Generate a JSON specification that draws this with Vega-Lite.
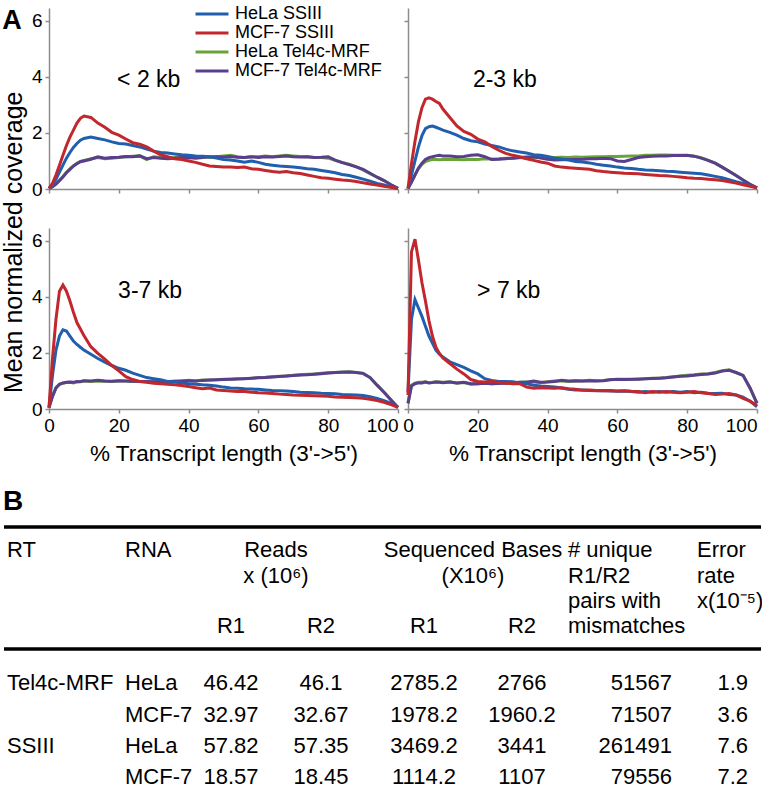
{
"$schema": "https://vega.github.io/schema/vega-lite/v6.json",
"padding": {"left": 2, "top": 4, "right": 0, "bottom": 0},
"title": {"text": "A", "anchor": "start", "frame": "bounds", "fontSize": 27, "fontWeight": "bold", "offset": -31},
"datasets": {
"labels": [{"p": "lt2", "label": "< 2 kb"}, {"p": "2to3", "label": "2-3 kb"}, {"p": "3to7", "label": "3-7 kb"}, {"p": "gt7", "label": "> 7 kb"}],
"tbl": [
{"k": "h", "r": 1, "c": 1, "t": "RT"},
{"k": "h", "r": 1, "c": 2, "t": "RNA"},
{"k": "h", "r": 1, "c": 3.5, "t": "Reads"},
{"k": "h", "r": 2, "c": 3.5, "t": "x (10⁶)"},
{"k": "h", "r": 1, "c": 5.5, "t": "Sequenced Bases"},
{"k": "h", "r": 2, "c": 5.5, "t": "(X10⁶)"},
{"k": "h", "r": 1, "c": 7, "t": "# unique"},
{"k": "h", "r": 2, "c": 7, "t": "R1/R2"},
{"k": "h", "r": 3, "c": 7, "t": "pairs with"},
{"k": "h", "r": 4, "c": 7, "t": "mismatches"},
{"k": "h", "r": 1, "c": 8, "t": "Error"},
{"k": "h", "r": 2, "c": 8, "t": "rate"},
{"k": "h", "r": 3, "c": 8, "t": "x(10⁻⁵)"},
{"k": "h", "r": 4, "c": 3, "t": "R1"},
{"k": "h", "r": 4, "c": 4, "t": "R2"},
{"k": "h", "r": 4, "c": 5, "t": "R1"},
{"k": "h", "r": 4, "c": 6, "t": "R2"},
{"k": "d", "r": 5, "c": 1, "t": "Tel4c-MRF"},
{"k": "d", "r": 5, "c": 2, "t": "HeLa"},
{"k": "d", "r": 5, "c": 3, "t": "46.42"},
{"k": "d", "r": 5, "c": 4, "t": "46.1"},
{"k": "d", "r": 5, "c": 5, "t": "2785.2"},
{"k": "d", "r": 5, "c": 6, "t": "2766"},
{"k": "d", "r": 5, "c": 7, "t": "51567"},
{"k": "d", "r": 5, "c": 8, "t": "1.9"},
{"k": "d", "r": 6, "c": 2, "t": "MCF-7"},
{"k": "d", "r": 6, "c": 3, "t": "32.97"},
{"k": "d", "r": 6, "c": 4, "t": "32.67"},
{"k": "d", "r": 6, "c": 5, "t": "1978.2"},
{"k": "d", "r": 6, "c": 6, "t": "1960.2"},
{"k": "d", "r": 6, "c": 7, "t": "71507"},
{"k": "d", "r": 6, "c": 8, "t": "3.6"},
{"k": "d", "r": 7, "c": 1, "t": "SSIII"},
{"k": "d", "r": 7, "c": 2, "t": "HeLa"},
{"k": "d", "r": 7, "c": 3, "t": "57.82"},
{"k": "d", "r": 7, "c": 4, "t": "57.35"},
{"k": "d", "r": 7, "c": 5, "t": "3469.2"},
{"k": "d", "r": 7, "c": 6, "t": "3441"},
{"k": "d", "r": 7, "c": 7, "t": "261491"},
{"k": "d", "r": 7, "c": 8, "t": "7.6"},
{"k": "d", "r": 8, "c": 2, "t": "MCF-7"},
{"k": "d", "r": 8, "c": 3, "t": "18.57"},
{"k": "d", "r": 8, "c": 4, "t": "18.45"},
{"k": "d", "r": 8, "c": 5, "t": "1114.2"},
{"k": "d", "r": 8, "c": 6, "t": "1107"},
{"k": "d", "r": 8, "c": 7, "t": "79556"},
{"k": "d", "r": 8, "c": 8, "t": "7.2"}
],
"cov": [
{"p":"lt2","x":0,"hs":0.02,"ms":0.02,"ht":0.02,"mt":0.02},
{"p":"lt2","x":1,"hs":0.15,"ms":0.2,"ht":0.08,"mt":0.08},
{"p":"lt2","x":2,"hs":0.35,"ms":0.5,"ht":0.18,"mt":0.17},
{"p":"lt2","x":3,"hs":0.6,"ms":0.85,"ht":0.3,"mt":0.3},
{"p":"lt2","x":4,"hs":0.85,"ms":1.2,"ht":0.45,"mt":0.43},
{"p":"lt2","x":5,"hs":1.1,"ms":1.55,"ht":0.6,"mt":0.58},
{"p":"lt2","x":6,"hs":1.3,"ms":1.85,"ht":0.72,"mt":0.7},
{"p":"lt2","x":7,"hs":1.48,"ms":2.1,"ht":0.82,"mt":0.82},
{"p":"lt2","x":8,"hs":1.62,"ms":2.35,"ht":0.92,"mt":0.9},
{"p":"lt2","x":9,"hs":1.74,"ms":2.52,"ht":0.98,"mt":0.97},
{"p":"lt2","x":10,"hs":1.8,"ms":2.6,"ht":1.02,"mt":1.0},
{"p":"lt2","x":12,"hs":1.85,"ms":2.55,"ht":1.08,"mt":1.06},
{"p":"lt2","x":14,"hs":1.8,"ms":2.35,"ht":1.12,"mt":1.15},
{"p":"lt2","x":16,"hs":1.75,"ms":2.2,"ht":1.08,"mt":1.1},
{"p":"lt2","x":18,"hs":1.68,"ms":2.02,"ht":1.1,"mt":1.12},
{"p":"lt2","x":20,"hs":1.62,"ms":1.92,"ht":1.12,"mt":1.13},
{"p":"lt2","x":22,"hs":1.6,"ms":1.78,"ht":1.15,"mt":1.16},
{"p":"lt2","x":24,"hs":1.55,"ms":1.65,"ht":1.17,"mt":1.15},
{"p":"lt2","x":26,"hs":1.5,"ms":1.6,"ht":1.18,"mt":1.18},
{"p":"lt2","x":28,"hs":1.42,"ms":1.5,"ht":1.05,"mt":1.08},
{"p":"lt2","x":30,"hs":1.35,"ms":1.35,"ht":1.15,"mt":1.12},
{"p":"lt2","x":32,"hs":1.3,"ms":1.22,"ht":1.12,"mt":1.1},
{"p":"lt2","x":34,"hs":1.28,"ms":1.15,"ht":1.1,"mt":1.08},
{"p":"lt2","x":36,"hs":1.25,"ms":1.08,"ht":1.12,"mt":1.1},
{"p":"lt2","x":38,"hs":1.22,"ms":1.05,"ht":1.15,"mt":1.12},
{"p":"lt2","x":40,"hs":1.2,"ms":1.0,"ht":1.1,"mt":1.13},
{"p":"lt2","x":42,"hs":1.18,"ms":0.95,"ht":1.12,"mt":1.1},
{"p":"lt2","x":44,"hs":1.17,"ms":0.88,"ht":1.15,"mt":1.12},
{"p":"lt2","x":46,"hs":1.15,"ms":0.82,"ht":1.12,"mt":1.15},
{"p":"lt2","x":48,"hs":1.1,"ms":0.8,"ht":1.15,"mt":1.15},
{"p":"lt2","x":50,"hs":1.05,"ms":0.78,"ht":1.18,"mt":1.14},
{"p":"lt2","x":52,"hs":1.03,"ms":0.78,"ht":1.2,"mt":1.16},
{"p":"lt2","x":54,"hs":1.0,"ms":0.77,"ht":1.15,"mt":1.13},
{"p":"lt2","x":56,"hs":0.95,"ms":0.78,"ht":1.12,"mt":1.12},
{"p":"lt2","x":58,"hs":1.0,"ms":0.72,"ht":1.15,"mt":1.15},
{"p":"lt2","x":60,"hs":0.95,"ms":0.7,"ht":1.15,"mt":1.12},
{"p":"lt2","x":62,"hs":0.88,"ms":0.66,"ht":1.18,"mt":1.15},
{"p":"lt2","x":64,"hs":0.85,"ms":0.62,"ht":1.15,"mt":1.14},
{"p":"lt2","x":66,"hs":0.82,"ms":0.6,"ht":1.18,"mt":1.16},
{"p":"lt2","x":68,"hs":0.8,"ms":0.62,"ht":1.2,"mt":1.18},
{"p":"lt2","x":70,"hs":0.78,"ms":0.58,"ht":1.18,"mt":1.15},
{"p":"lt2","x":72,"hs":0.76,"ms":0.55,"ht":1.16,"mt":1.14},
{"p":"lt2","x":74,"hs":0.72,"ms":0.5,"ht":1.15,"mt":1.15},
{"p":"lt2","x":76,"hs":0.7,"ms":0.45,"ht":1.12,"mt":1.12},
{"p":"lt2","x":78,"hs":0.66,"ms":0.4,"ht":1.12,"mt":1.13},
{"p":"lt2","x":80,"hs":0.62,"ms":0.38,"ht":1.1,"mt":1.15},
{"p":"lt2","x":82,"hs":0.58,"ms":0.35,"ht":1.02,"mt":1.03},
{"p":"lt2","x":84,"hs":0.52,"ms":0.32,"ht":0.95,"mt":0.94},
{"p":"lt2","x":86,"hs":0.48,"ms":0.3,"ht":0.88,"mt":0.87},
{"p":"lt2","x":88,"hs":0.42,"ms":0.27,"ht":0.8,"mt":0.79},
{"p":"lt2","x":90,"hs":0.35,"ms":0.22,"ht":0.68,"mt":0.7},
{"p":"lt2","x":92,"hs":0.28,"ms":0.18,"ht":0.55,"mt":0.56},
{"p":"lt2","x":94,"hs":0.2,"ms":0.14,"ht":0.42,"mt":0.42},
{"p":"lt2","x":96,"hs":0.14,"ms":0.1,"ht":0.3,"mt":0.3},
{"p":"lt2","x":98,"hs":0.07,"ms":0.06,"ht":0.15,"mt":0.15},
{"p":"lt2","x":100,"hs":0.02,"ms":0.02,"ht":0.02,"mt":0.02},
{"p":"2to3","x":0,"hs":0.02,"ms":0.02,"ht":0.02,"mt":0.02},
{"p":"2to3","x":1,"hs":0.5,"ms":0.9,"ht":0.25,"mt":0.25},
{"p":"2to3","x":2,"hs":1.0,"ms":1.7,"ht":0.5,"mt":0.5},
{"p":"2to3","x":3,"hs":1.5,"ms":2.4,"ht":0.72,"mt":0.75},
{"p":"2to3","x":4,"hs":1.9,"ms":2.9,"ht":0.88,"mt":0.92},
{"p":"2to3","x":5,"hs":2.15,"ms":3.2,"ht":0.98,"mt":1.05},
{"p":"2to3","x":6,"hs":2.22,"ms":3.25,"ht":1.02,"mt":1.12},
{"p":"2to3","x":7,"hs":2.24,"ms":3.2,"ht":1.05,"mt":1.15},
{"p":"2to3","x":8,"hs":2.2,"ms":3.12,"ht":1.05,"mt":1.18},
{"p":"2to3","x":9,"hs":2.15,"ms":3.05,"ht":1.04,"mt":1.2},
{"p":"2to3","x":10,"hs":2.1,"ms":2.85,"ht":1.05,"mt":1.18},
{"p":"2to3","x":12,"hs":2.02,"ms":2.55,"ht":1.06,"mt":1.18},
{"p":"2to3","x":14,"hs":1.92,"ms":2.25,"ht":1.05,"mt":1.15},
{"p":"2to3","x":16,"hs":1.8,"ms":2.05,"ht":1.04,"mt":1.16},
{"p":"2to3","x":18,"hs":1.72,"ms":1.95,"ht":1.06,"mt":1.2},
{"p":"2to3","x":20,"hs":1.68,"ms":1.78,"ht":1.05,"mt":1.22},
{"p":"2to3","x":22,"hs":1.6,"ms":1.68,"ht":1.08,"mt":1.15},
{"p":"2to3","x":24,"hs":1.55,"ms":1.52,"ht":1.07,"mt":1.05},
{"p":"2to3","x":26,"hs":1.5,"ms":1.38,"ht":1.08,"mt":1.06},
{"p":"2to3","x":28,"hs":1.42,"ms":1.27,"ht":1.1,"mt":1.08},
{"p":"2to3","x":30,"hs":1.36,"ms":1.2,"ht":1.1,"mt":1.1},
{"p":"2to3","x":32,"hs":1.32,"ms":1.15,"ht":1.12,"mt":1.12},
{"p":"2to3","x":34,"hs":1.28,"ms":1.08,"ht":1.1,"mt":1.14},
{"p":"2to3","x":36,"hs":1.22,"ms":1.02,"ht":1.13,"mt":1.15},
{"p":"2to3","x":38,"hs":1.2,"ms":0.96,"ht":1.12,"mt":1.1},
{"p":"2to3","x":40,"hs":1.16,"ms":0.92,"ht":1.13,"mt":1.06},
{"p":"2to3","x":42,"hs":1.1,"ms":0.82,"ht":1.12,"mt":1.03},
{"p":"2to3","x":44,"hs":1.07,"ms":0.78,"ht":1.13,"mt":1.04},
{"p":"2to3","x":46,"hs":1.03,"ms":0.76,"ht":1.12,"mt":1.05},
{"p":"2to3","x":48,"hs":0.98,"ms":0.74,"ht":1.14,"mt":1.05},
{"p":"2to3","x":50,"hs":0.96,"ms":0.72,"ht":1.13,"mt":1.06},
{"p":"2to3","x":52,"hs":0.93,"ms":0.7,"ht":1.14,"mt":1.08},
{"p":"2to3","x":54,"hs":0.88,"ms":0.65,"ht":1.15,"mt":1.08},
{"p":"2to3","x":56,"hs":0.85,"ms":0.62,"ht":1.15,"mt":1.1},
{"p":"2to3","x":58,"hs":0.82,"ms":0.6,"ht":1.16,"mt":1.08},
{"p":"2to3","x":60,"hs":0.78,"ms":0.58,"ht":1.16,"mt":1.0},
{"p":"2to3","x":62,"hs":0.75,"ms":0.56,"ht":1.17,"mt":0.98},
{"p":"2to3","x":64,"hs":0.73,"ms":0.55,"ht":1.18,"mt":1.05},
{"p":"2to3","x":66,"hs":0.7,"ms":0.54,"ht":1.18,"mt":1.12},
{"p":"2to3","x":68,"hs":0.68,"ms":0.52,"ht":1.2,"mt":1.15},
{"p":"2to3","x":70,"hs":0.67,"ms":0.5,"ht":1.2,"mt":1.17},
{"p":"2to3","x":72,"hs":0.65,"ms":0.48,"ht":1.21,"mt":1.18},
{"p":"2to3","x":74,"hs":0.63,"ms":0.47,"ht":1.21,"mt":1.18},
{"p":"2to3","x":76,"hs":0.62,"ms":0.45,"ht":1.2,"mt":1.19},
{"p":"2to3","x":78,"hs":0.6,"ms":0.43,"ht":1.2,"mt":1.19},
{"p":"2to3","x":80,"hs":0.58,"ms":0.4,"ht":1.19,"mt":1.2},
{"p":"2to3","x":82,"hs":0.56,"ms":0.38,"ht":1.17,"mt":1.17},
{"p":"2to3","x":84,"hs":0.54,"ms":0.37,"ht":1.12,"mt":1.1},
{"p":"2to3","x":86,"hs":0.5,"ms":0.35,"ht":1.02,"mt":1.02},
{"p":"2to3","x":88,"hs":0.45,"ms":0.33,"ht":0.92,"mt":0.92},
{"p":"2to3","x":90,"hs":0.4,"ms":0.3,"ht":0.78,"mt":0.78},
{"p":"2to3","x":92,"hs":0.33,"ms":0.26,"ht":0.63,"mt":0.63},
{"p":"2to3","x":94,"hs":0.26,"ms":0.21,"ht":0.48,"mt":0.48},
{"p":"2to3","x":96,"hs":0.2,"ms":0.15,"ht":0.32,"mt":0.32},
{"p":"2to3","x":98,"hs":0.12,"ms":0.1,"ht":0.17,"mt":0.17},
{"p":"2to3","x":100,"hs":0.04,"ms":0.04,"ht":0.04,"mt":0.04},
{"p":"3to7","x":0,"hs":0.05,"ms":0.05,"ht":0.05,"mt":0.05},
{"p":"3to7","x":1,"hs":1.2,"ms":1.8,"ht":0.45,"mt":0.45},
{"p":"3to7","x":2,"hs":2.1,"ms":3.2,"ht":0.75,"mt":0.75},
{"p":"3to7","x":3,"hs":2.6,"ms":4.2,"ht":0.88,"mt":0.88},
{"p":"3to7","x":4,"hs":2.82,"ms":4.42,"ht":0.92,"mt":0.93},
{"p":"3to7","x":5,"hs":2.78,"ms":4.2,"ht":0.94,"mt":0.95},
{"p":"3to7","x":6,"hs":2.6,"ms":3.85,"ht":0.95,"mt":0.96},
{"p":"3to7","x":7,"hs":2.42,"ms":3.45,"ht":0.93,"mt":0.95},
{"p":"3to7","x":8,"hs":2.3,"ms":3.08,"ht":0.97,"mt":0.98},
{"p":"3to7","x":9,"hs":2.2,"ms":2.85,"ht":0.98,"mt":0.97},
{"p":"3to7","x":10,"hs":2.1,"ms":2.62,"ht":1.0,"mt":1.01},
{"p":"3to7","x":12,"hs":1.95,"ms":2.22,"ht":0.98,"mt":1.0},
{"p":"3to7","x":14,"hs":1.8,"ms":1.98,"ht":1.0,"mt":1.02},
{"p":"3to7","x":16,"hs":1.67,"ms":1.78,"ht":0.99,"mt":1.0},
{"p":"3to7","x":18,"hs":1.55,"ms":1.55,"ht":0.98,"mt":0.99},
{"p":"3to7","x":20,"hs":1.45,"ms":1.36,"ht":1.0,"mt":1.01},
{"p":"3to7","x":22,"hs":1.38,"ms":1.15,"ht":1.0,"mt":1.0},
{"p":"3to7","x":24,"hs":1.28,"ms":1.05,"ht":0.98,"mt":0.99},
{"p":"3to7","x":26,"hs":1.2,"ms":0.98,"ht":0.98,"mt":0.98},
{"p":"3to7","x":28,"hs":1.12,"ms":0.95,"ht":0.97,"mt":0.98},
{"p":"3to7","x":30,"hs":1.08,"ms":0.92,"ht":0.96,"mt":0.97},
{"p":"3to7","x":32,"hs":1.04,"ms":0.9,"ht":0.98,"mt":0.98},
{"p":"3to7","x":34,"hs":0.98,"ms":0.88,"ht":0.97,"mt":0.98},
{"p":"3to7","x":36,"hs":0.96,"ms":0.86,"ht":0.99,"mt":0.99},
{"p":"3to7","x":38,"hs":0.93,"ms":0.84,"ht":1.0,"mt":1.0},
{"p":"3to7","x":40,"hs":0.9,"ms":0.8,"ht":1.02,"mt":1.01},
{"p":"3to7","x":42,"hs":0.88,"ms":0.76,"ht":1.0,"mt":1.0},
{"p":"3to7","x":44,"hs":0.86,"ms":0.72,"ht":1.03,"mt":1.02},
{"p":"3to7","x":46,"hs":0.85,"ms":0.75,"ht":1.03,"mt":1.03},
{"p":"3to7","x":48,"hs":0.82,"ms":0.68,"ht":1.04,"mt":1.04},
{"p":"3to7","x":50,"hs":0.78,"ms":0.66,"ht":1.06,"mt":1.05},
{"p":"3to7","x":52,"hs":0.75,"ms":0.64,"ht":1.06,"mt":1.06},
{"p":"3to7","x":54,"hs":0.74,"ms":0.62,"ht":1.08,"mt":1.07},
{"p":"3to7","x":56,"hs":0.72,"ms":0.62,"ht":1.09,"mt":1.08},
{"p":"3to7","x":58,"hs":0.71,"ms":0.6,"ht":1.1,"mt":1.1},
{"p":"3to7","x":60,"hs":0.7,"ms":0.58,"ht":1.12,"mt":1.11},
{"p":"3to7","x":62,"hs":0.68,"ms":0.57,"ht":1.13,"mt":1.12},
{"p":"3to7","x":64,"hs":0.66,"ms":0.55,"ht":1.15,"mt":1.14},
{"p":"3to7","x":66,"hs":0.65,"ms":0.53,"ht":1.17,"mt":1.16},
{"p":"3to7","x":68,"hs":0.64,"ms":0.52,"ht":1.18,"mt":1.18},
{"p":"3to7","x":70,"hs":0.62,"ms":0.5,"ht":1.2,"mt":1.19},
{"p":"3to7","x":72,"hs":0.6,"ms":0.49,"ht":1.22,"mt":1.21},
{"p":"3to7","x":74,"hs":0.59,"ms":0.48,"ht":1.24,"mt":1.22},
{"p":"3to7","x":76,"hs":0.58,"ms":0.47,"ht":1.25,"mt":1.24},
{"p":"3to7","x":78,"hs":0.56,"ms":0.46,"ht":1.27,"mt":1.26},
{"p":"3to7","x":80,"hs":0.55,"ms":0.45,"ht":1.29,"mt":1.28},
{"p":"3to7","x":82,"hs":0.54,"ms":0.43,"ht":1.3,"mt":1.3},
{"p":"3to7","x":84,"hs":0.52,"ms":0.42,"ht":1.32,"mt":1.31},
{"p":"3to7","x":86,"hs":0.51,"ms":0.41,"ht":1.33,"mt":1.32},
{"p":"3to7","x":88,"hs":0.5,"ms":0.4,"ht":1.3,"mt":1.3},
{"p":"3to7","x":90,"hs":0.48,"ms":0.38,"ht":1.27,"mt":1.27},
{"p":"3to7","x":92,"hs":0.44,"ms":0.35,"ht":1.12,"mt":1.12},
{"p":"3to7","x":94,"hs":0.38,"ms":0.3,"ht":0.85,"mt":0.85},
{"p":"3to7","x":96,"hs":0.3,"ms":0.24,"ht":0.6,"mt":0.6},
{"p":"3to7","x":98,"hs":0.2,"ms":0.16,"ht":0.32,"mt":0.32},
{"p":"3to7","x":100,"hs":0.06,"ms":0.06,"ht":0.05,"mt":0.05},
{"p":"gt7","x":0,"hs":0.6,"ms":0.5,"ht":0.2,"mt":0.2},
{"p":"gt7","x":1,"hs":3.2,"ms":5.6,"ht":0.85,"mt":0.82},
{"p":"gt7","x":2,"hs":3.9,"ms":6.05,"ht":0.92,"mt":0.9},
{"p":"gt7","x":3,"hs":3.6,"ms":5.3,"ht":0.95,"mt":0.93},
{"p":"gt7","x":4,"hs":3.3,"ms":4.5,"ht":0.95,"mt":0.93},
{"p":"gt7","x":5,"hs":2.95,"ms":3.85,"ht":0.97,"mt":0.96},
{"p":"gt7","x":6,"hs":2.6,"ms":3.15,"ht":0.94,"mt":0.93},
{"p":"gt7","x":7,"hs":2.35,"ms":2.6,"ht":0.95,"mt":0.94},
{"p":"gt7","x":8,"hs":2.1,"ms":2.2,"ht":0.97,"mt":0.96},
{"p":"gt7","x":9,"hs":1.95,"ms":1.98,"ht":0.96,"mt":0.95},
{"p":"gt7","x":10,"hs":1.85,"ms":1.82,"ht":0.95,"mt":0.94},
{"p":"gt7","x":12,"hs":1.68,"ms":1.62,"ht":0.97,"mt":0.96},
{"p":"gt7","x":14,"hs":1.58,"ms":1.42,"ht":0.92,"mt":0.93},
{"p":"gt7","x":16,"hs":1.48,"ms":1.25,"ht":0.94,"mt":0.95},
{"p":"gt7","x":18,"hs":1.36,"ms":1.05,"ht":0.88,"mt":0.9},
{"p":"gt7","x":20,"hs":1.25,"ms":0.98,"ht":0.9,"mt":0.9},
{"p":"gt7","x":22,"hs":1.08,"ms":0.96,"ht":0.92,"mt":0.92},
{"p":"gt7","x":24,"hs":1.02,"ms":0.98,"ht":0.9,"mt":0.9},
{"p":"gt7","x":26,"hs":0.98,"ms":0.95,"ht":0.92,"mt":0.91},
{"p":"gt7","x":28,"hs":0.98,"ms":0.92,"ht":0.92,"mt":0.93},
{"p":"gt7","x":30,"hs":0.97,"ms":0.9,"ht":0.94,"mt":0.92},
{"p":"gt7","x":32,"hs":0.93,"ms":0.9,"ht":0.95,"mt":0.95},
{"p":"gt7","x":34,"hs":0.9,"ms":0.78,"ht":0.96,"mt":0.95},
{"p":"gt7","x":36,"hs":0.85,"ms":0.74,"ht":0.96,"mt":1.0},
{"p":"gt7","x":38,"hs":0.82,"ms":0.76,"ht":0.94,"mt":0.95},
{"p":"gt7","x":40,"hs":0.8,"ms":0.75,"ht":0.97,"mt":0.96},
{"p":"gt7","x":42,"hs":0.78,"ms":0.74,"ht":1.0,"mt":0.98},
{"p":"gt7","x":44,"hs":0.75,"ms":0.76,"ht":1.0,"mt":1.02},
{"p":"gt7","x":46,"hs":0.7,"ms":0.72,"ht":0.98,"mt":1.0},
{"p":"gt7","x":48,"hs":0.68,"ms":0.7,"ht":1.0,"mt":1.01},
{"p":"gt7","x":50,"hs":0.68,"ms":0.67,"ht":1.0,"mt":1.0},
{"p":"gt7","x":52,"hs":0.66,"ms":0.68,"ht":1.02,"mt":1.01},
{"p":"gt7","x":54,"hs":0.65,"ms":0.66,"ht":1.01,"mt":1.0},
{"p":"gt7","x":56,"hs":0.66,"ms":0.65,"ht":1.02,"mt":1.01},
{"p":"gt7","x":58,"hs":0.64,"ms":0.66,"ht":1.05,"mt":1.04},
{"p":"gt7","x":60,"hs":0.63,"ms":0.64,"ht":1.05,"mt":1.06},
{"p":"gt7","x":62,"hs":0.64,"ms":0.65,"ht":1.06,"mt":1.05},
{"p":"gt7","x":64,"hs":0.62,"ms":0.63,"ht":1.05,"mt":1.06},
{"p":"gt7","x":66,"hs":0.6,"ms":0.62,"ht":1.07,"mt":1.06},
{"p":"gt7","x":68,"hs":0.62,"ms":0.58,"ht":1.08,"mt":1.08},
{"p":"gt7","x":70,"hs":0.6,"ms":0.62,"ht":1.1,"mt":1.09},
{"p":"gt7","x":72,"hs":0.62,"ms":0.6,"ht":1.1,"mt":1.1},
{"p":"gt7","x":74,"hs":0.6,"ms":0.62,"ht":1.12,"mt":1.11},
{"p":"gt7","x":76,"hs":0.62,"ms":0.6,"ht":1.15,"mt":1.14},
{"p":"gt7","x":78,"hs":0.6,"ms":0.58,"ht":1.18,"mt":1.17},
{"p":"gt7","x":80,"hs":0.62,"ms":0.6,"ht":1.2,"mt":1.18},
{"p":"gt7","x":82,"hs":0.58,"ms":0.62,"ht":1.22,"mt":1.2},
{"p":"gt7","x":84,"hs":0.6,"ms":0.58,"ht":1.25,"mt":1.23},
{"p":"gt7","x":86,"hs":0.56,"ms":0.55,"ht":1.26,"mt":1.25},
{"p":"gt7","x":88,"hs":0.55,"ms":0.52,"ht":1.3,"mt":1.28},
{"p":"gt7","x":90,"hs":0.56,"ms":0.53,"ht":1.36,"mt":1.35},
{"p":"gt7","x":92,"hs":0.52,"ms":0.55,"ht":1.4,"mt":1.38},
{"p":"gt7","x":94,"hs":0.5,"ms":0.5,"ht":1.3,"mt":1.3},
{"p":"gt7","x":96,"hs":0.42,"ms":0.38,"ht":1.2,"mt":1.2},
{"p":"gt7","x":98,"hs":0.28,"ms":0.28,"ht":0.75,"mt":0.75},
{"p":"gt7","x":100,"hs":0.08,"ms":0.12,"ht":0.2,"mt":0.2}
]
},
"columns": 1,
"align": "none",
"spacing": 23,
"resolve": {"scale": {"color": "independent"}, "legend": {"color": "independent"}},
"concat": [
{
"title": {"text": "Mean normalized coverage", "orient": "left", "anchor": "middle", "fontSize": 25, "fontWeight": "normal", "offset": 4, "dx": -8},
"spacing": 29,
"resolve": {"scale": {"color": "independent"}, "legend": {"color": "independent"}},
"vconcat": [
{
"spacing": 10,
"bounds": "flush",
"resolve": {"scale": {"color": "independent"}, "legend": {"color": "independent"}},
"hconcat": [
{
"width": 349, "height": 181,
"layer": [
{"data": {"name": "cov"}, "transform": [{"filter": "datum.p === 'lt2'"}, {"fold": ["ht", "mt", "hs", "ms"], "as": ["s", "v"]}],
"mark": {"type": "line", "strokeWidth": 3},
"encoding": {
"x": {"field": "x", "type": "quantitative", "scale": {"domain": [0, 100], "nice": false}, "axis": {"title": null, "values": [0,10,20,30,40,50,60,70,80,90,100], "labels": false}},
"y": {"field": "v", "type": "quantitative", "scale": {"domain": [0, 6.45], "nice": false}, "axis": {"title": null, "values": [0,1,2,3,4,5,6], "labelExpr": "datum.value % 2 === 0 ? datum.label : ''", "labelOverlap": false, "labelPadding": 3}},
"color": {"field": "s", "type": "nominal", "scale": {"domain": ["hs", "ms", "ht", "mt"], "range": ["#1f5fad", "#c1272d", "#6aa33a", "#5a3e8e"]},
"legend": {"orient": "none", "legendX": 153, "legendY": -4, "title": null, "symbolType": "M-2,0H2", "symbolSize": 272, "symbolStrokeWidth": 3, "labelFontSize": 18, "labelOffset": 13, "rowPadding": -3, "labelLimit": 300, "padding": 0,
"labelExpr": "datum.label === 'hs' ? 'HeLa SSIII' : datum.label === 'ms' ? 'MCF-7 SSIII' : datum.label === 'ht' ? 'HeLa Tel4c-MRF' : 'MCF-7 Tel4c-MRF'"}}
}},
{"data": {"name": "labels"}, "transform": [{"filter": "datum.p === 'lt2'"}],
"mark": {"type": "text", "fontSize": 23, "align": "left", "baseline": "middle"},
"encoding": {"x": {"datum": 19.5}, "y": {"datum": 3.9}, "text": {"field": "label"}}}
]
},
{
"width": 349, "height": 181,
"layer": [
{"data": {"name": "cov"}, "transform": [{"filter": "datum.p === '2to3'"}, {"fold": ["ht", "mt", "hs", "ms"], "as": ["s", "v"]}],
"mark": {"type": "line", "strokeWidth": 3},
"encoding": {
"x": {"field": "x", "type": "quantitative", "scale": {"domain": [0, 100], "nice": false}, "axis": {"title": null, "values": [0,10,20,30,40,50,60,70,80,90,100], "labels": false}},
"y": {"field": "v", "type": "quantitative", "scale": {"domain": [0, 6.45], "nice": false}, "axis": {"title": null, "values": [0,1,2,3,4,5,6], "labels": false}},
"color": {"field": "s", "type": "nominal", "scale": {"domain": ["hs", "ms", "ht", "mt"], "range": ["#1f5fad", "#c1272d", "#6aa33a", "#5a3e8e"]}, "legend": null}
}},
{"data": {"name": "labels"}, "transform": [{"filter": "datum.p === '2to3'"}],
"mark": {"type": "text", "fontSize": 23, "align": "left", "baseline": "middle"},
"encoding": {"x": {"datum": 18.6}, "y": {"datum": 3.9}, "text": {"field": "label"}}}
]
}
]
},
{
"spacing": 10,
"bounds": "flush",
"resolve": {"scale": {"color": "independent"}, "legend": {"color": "independent"}},
"hconcat": [
{
"width": 349, "height": 181,
"layer": [
{"data": {"name": "cov"}, "transform": [{"filter": "datum.p === '3to7'"}, {"fold": ["ht", "mt", "hs", "ms"], "as": ["s", "v"]}],
"mark": {"type": "line", "strokeWidth": 3},
"encoding": {
"x": {"field": "x", "type": "quantitative", "scale": {"domain": [0, 100], "nice": false}, "axis": {"title": "% Transcript length (3'->5')", "values": [0,10,20,30,40,50,60,70,80,90,100], "labelExpr": "datum.value % 20 === 0 ? datum.label : ''", "labelOverlap": false, "labelPadding": 3, "titlePadding": 7, "labelAlign": {"condition": {"test": "datum.value === 100", "value": "right"}, "value": "center"}}},
"y": {"field": "v", "type": "quantitative", "scale": {"domain": [0, 6.45], "nice": false}, "axis": {"title": null, "values": [0,1,2,3,4,5,6], "labelExpr": "datum.value % 2 === 0 ? datum.label : ''", "labelOverlap": false, "labelPadding": 3}},
"color": {"field": "s", "type": "nominal", "scale": {"domain": ["hs", "ms", "ht", "mt"], "range": ["#1f5fad", "#c1272d", "#6aa33a", "#5a3e8e"]}, "legend": null}
}},
{"data": {"name": "labels"}, "transform": [{"filter": "datum.p === '3to7'"}],
"mark": {"type": "text", "fontSize": 23, "align": "left", "baseline": "middle"},
"encoding": {"x": {"datum": 19.8}, "y": {"datum": 4.2}, "text": {"field": "label"}}}
]
},
{
"width": 349, "height": 181,
"layer": [
{"data": {"name": "cov"}, "transform": [{"filter": "datum.p === 'gt7'"}, {"fold": ["ht", "mt", "hs", "ms"], "as": ["s", "v"]}],
"mark": {"type": "line", "strokeWidth": 3},
"encoding": {
"x": {"field": "x", "type": "quantitative", "scale": {"domain": [0, 100], "nice": false}, "axis": {"title": "% Transcript length (3'->5')", "values": [0,10,20,30,40,50,60,70,80,90,100], "labelExpr": "datum.value % 20 === 0 ? datum.label : ''", "labelOverlap": false, "labelPadding": 3, "titlePadding": 7, "labelAlign": {"condition": {"test": "datum.value === 100", "value": "right"}, "value": "center"}}},
"y": {"field": "v", "type": "quantitative", "scale": {"domain": [0, 6.45], "nice": false}, "axis": {"title": null, "values": [0,1,2,3,4,5,6], "labels": false}},
"color": {"field": "s", "type": "nominal", "scale": {"domain": ["hs", "ms", "ht", "mt"], "range": ["#1f5fad", "#c1272d", "#6aa33a", "#5a3e8e"]}, "legend": null}
}},
{"data": {"name": "labels"}, "transform": [{"filter": "datum.p === 'gt7'"}],
"mark": {"type": "text", "fontSize": 23, "align": "left", "baseline": "middle"},
"encoding": {"x": {"datum": 19.8}, "y": {"datum": 4.2}, "text": {"field": "label"}}}
]
}
]
}
]
},
{
"title": {"text": "B", "anchor": "start", "frame": "group", "fontSize": 28, "fontWeight": "bold", "offset": 4, "dx": -46},
"width": 712, "height": 268,
"layer": [
{"data": {"values": [{"r": 0, "a": 0, "b": 9}, {"r": 4.5, "a": 0, "b": 9}]},
"mark": {"type": "rule", "strokeWidth": 3.5, "color": "#000"},
"encoding": {
"x": {"field": "a", "type": "quantitative", "scale": {"domain": [0,1,2,3,4,5,6,7,8,9], "range": [-45,-42,76,182,272,375,473,623,699,712], "nice": false, "zero": false}, "axis": null},
"x2": {"field": "b"},
"y": {"field": "r", "type": "quantitative", "scale": {"domain": [0,1,2,3,4,4.5,5,6,7,8], "range": [7,30,56,81,106,129,163,195,226,257], "nice": false, "zero": false}, "axis": null}}},
{"data": {"name": "tbl"}, "transform": [{"filter": "datum.c <= 2"}],
"mark": {"type": "text", "align": "left", "baseline": "middle", "fontSize": 22},
"encoding": {
"x": {"field": "c", "type": "quantitative", "axis": null},
"y": {"field": "r", "type": "quantitative", "axis": null},
"text": {"field": "t"}}},
{"data": {"name": "tbl"}, "transform": [{"filter": "datum.c > 2 && datum.c < 7"}],
"mark": {"type": "text", "align": "center", "baseline": "middle", "fontSize": 22},
"encoding": {
"x": {"field": "c", "type": "quantitative", "axis": null},
"y": {"field": "r", "type": "quantitative", "axis": null},
"text": {"field": "t"}}},
{"data": {"name": "tbl"}, "transform": [{"filter": "datum.k === 'd' && datum.c >= 7"}],
"mark": {"type": "text", "align": "right", "baseline": "middle", "fontSize": 22},
"encoding": {
"x": {"field": "c", "type": "quantitative", "axis": null},
"y": {"field": "r", "type": "quantitative", "axis": null},
"text": {"field": "t"}}},
{"data": {"name": "tbl"}, "transform": [{"filter": "datum.k === 'h' && datum.c === 7"}],
"mark": {"type": "text", "align": "left", "baseline": "middle", "fontSize": 22, "dx": -104},
"encoding": {
"x": {"field": "c", "type": "quantitative", "axis": null},
"y": {"field": "r", "type": "quantitative", "axis": null},
"text": {"field": "t"}}},
{"data": {"name": "tbl"}, "transform": [{"filter": "datum.k === 'h' && datum.c === 8"}],
"mark": {"type": "text", "align": "left", "baseline": "middle", "fontSize": 22, "dx": -51},
"encoding": {
"x": {"field": "c", "type": "quantitative", "axis": null},
"y": {"field": "r", "type": "quantitative", "axis": null},
"text": {"field": "t"}}}
]
}
],
"config": {
"view": {"stroke": null},
"font": "Liberation Sans",
"axis": {"grid": false, "labelColor": "#000", "titleColor": "#000", "domainColor": "#8c8c8c", "tickColor": "#8c8c8c", "domainWidth": 1.5, "tickWidth": 1.5, "tickSize": 4, "labelFontSize": 19, "titleFontSize": 22.5, "titleFontWeight": "normal"},
"title": {"color": "#000"},
"legend": {"labelColor": "#000"},
"text": {"color": "#000"}
}
}
